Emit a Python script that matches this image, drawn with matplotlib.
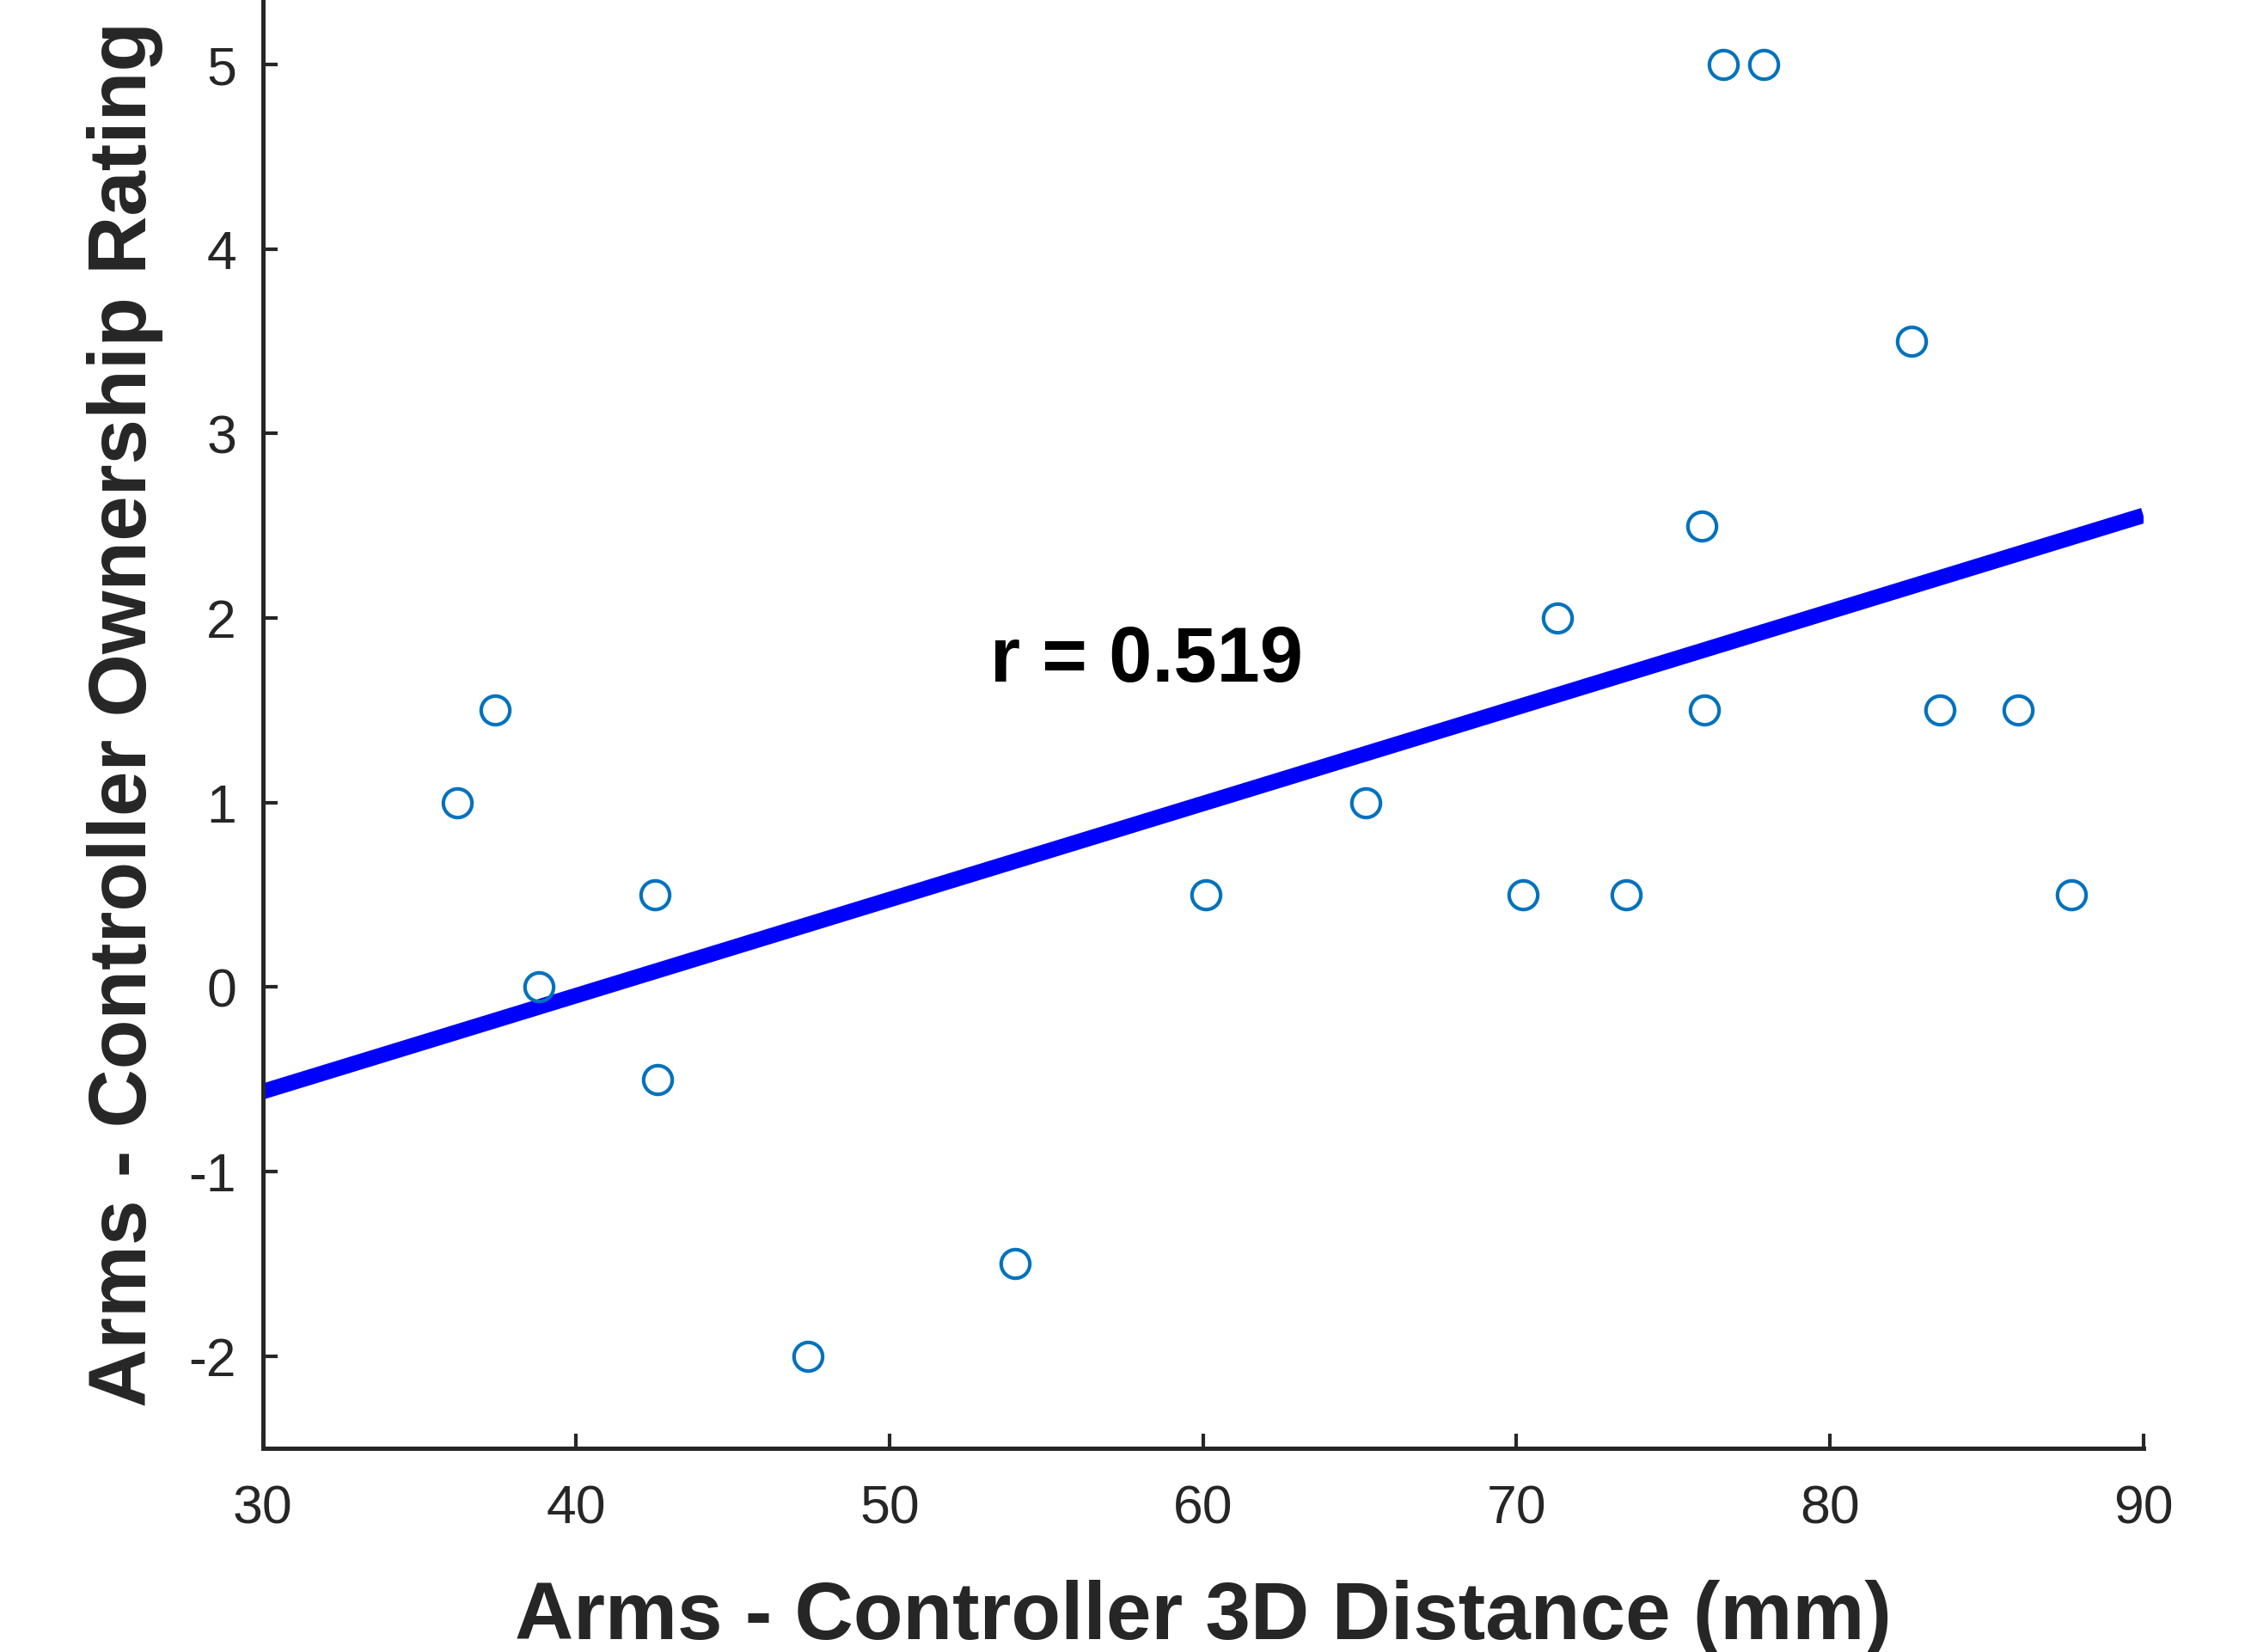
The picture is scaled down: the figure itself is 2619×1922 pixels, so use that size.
import numpy as np
import matplotlib
matplotlib.use("Agg")
import matplotlib.pyplot as plt

# Data
distance_mm = [36.2, 37.4, 38.8, 42.5, 42.6, 47.4, 54.0, 60.1, 65.2, 70.2,
               71.3, 73.5, 75.9, 76.0, 76.6, 77.9, 82.6, 83.5, 86.0, 87.7]
ownership = [1.0, 1.5, 0.0, 0.5, -0.5, -2.0, -1.5, 0.5, 1.0, 0.5,
             2.0, 0.5, 2.5, 1.5, 5.0, 5.0, 3.5, 1.5, 1.5, 0.5]
fit_x = [30, 90]
fit_y = [-0.567, 2.556]
r_label = "r = 0.519"
x_ticks = [30, 40, 50, 60, 70, 80, 90]
y_ticks = [-2, -1, 0, 1, 2, 3, 4, 5]

plt.rcParams['font.family'] = ['Liberation Sans', 'DejaVu Sans']
plt.rcParams['axes.unicode_minus'] = False

W, H = 2619, 1922
fig = plt.figure(figsize=(W / 100, H / 100), dpi=100)
ax = fig.add_axes([183 / 1568, (1151 - 1009) / 1151, (1493 - 183) / 1568, 1009 / 1151])

dark = '#262626'
ax.plot(fit_x, fit_y, color=(0, 0, 1), lw=13, solid_capstyle='butt', zorder=2)
ax.plot(distance_mm, ownership, linestyle='none', marker='o', ms=24,
        mfc='none', mec=(0, 0.447, 0.741), mew=3.0, zorder=3)

ax.text(53.2, 1.655, r_label, fontsize=65, fontweight='bold', color='black',
        ha='left', va='baseline')

ax.set_xlim(30, 90)
ax.set_ylim(-2.5, 5.35)
ax.set_xticks(x_ticks)
ax.set_yticks(y_ticks)
ax.set_xticklabels([str(v) for v in x_ticks])
ax.set_yticklabels([str(v) for v in y_ticks])

for s in ['top', 'right']:
    ax.spines[s].set_visible(False)
for s in ['left', 'bottom']:
    ax.spines[s].set_linewidth(3.6)
    ax.spines[s].set_color(dark)

ax.tick_params(axis='both', direction='in', length=12, width=3, color=dark,
               labelsize=45, labelcolor=dark)
ax.tick_params(axis='x', pad=30)
ax.tick_params(axis='y', pad=22)

ax.set_xlabel('Arms - Controller 3D Distance (mm)', fontsize=68,
              fontweight='bold', color=dark, va='baseline')
ax.xaxis.set_label_coords(0.5, -0.1318)
ax.set_ylabel('Arms - Controller Ownership Rating', fontsize=68,
              fontweight='bold', color=dark, va='center', ha='center')
ax.yaxis.set_label_coords(-0.073, 0.507)

fig.savefig('out.png', dpi=100, facecolor='white')
